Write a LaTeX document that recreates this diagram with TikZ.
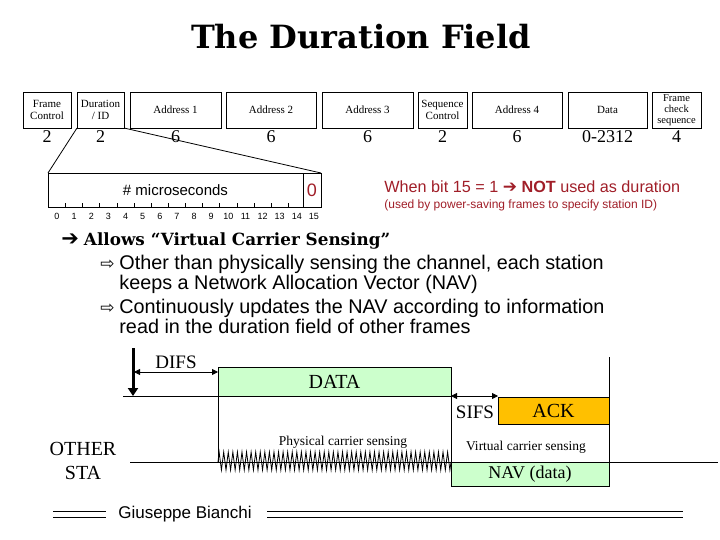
\documentclass[tikz,border=0pt]{standalone}
\definecolor{navred}{RGB}{160, 30, 40}
\definecolor{datagreen}{RGB}{204, 255, 204}
\definecolor{ackorange}{RGB}{255, 192, 0}
\usepackage{fontspec}
\setmainfont{Liberation Serif}
\setsansfont{Liberation Sans}
\newfontfamily\headfont{DejaVu Serif}
\newfontfamily\symfont{DejaVu Sans}
\usepackage{tikz}
\usetikzlibrary{arrows.meta, positioning}

\tikzset{
    field/.style={draw, line width=0.8pt, inner sep=0pt, outer sep=0pt,
                  minimum height=36pt, align=center,
                  font=\fontsize{11}{12.5}\selectfont},
    fieldsize/.style={inner sep=0pt, font=\fontsize{18}{18}\selectfont},
    bitbox/.style={draw, line width=0.8pt, inner sep=0pt, outer sep=0pt,
                   minimum height=34pt},
    bitnum/.style={inner sep=0pt, font=\sffamily\fontsize{9}{9}\selectfont},
    slot/.style={draw, line width=0.8pt, inner sep=0pt, outer sep=0pt,
                 font=\fontsize{20}{20}\selectfont},
    timelabel/.style={inner sep=0pt, font=\fontsize{19}{19}\selectfont},
    sensing/.style={inner sep=0pt, font=\fontsize{13.5}{13.5}\selectfont},
    gap/.style={line width=0.8pt, {Triangle[length=6pt,width=6pt]}-{Triangle[length=6pt,width=6pt]}}
}

\begin{document}
\begin{tikzpicture}[x=1pt, y=-1pt, line width=0.8pt]
    \useasboundingbox (0,0) rectangle (720,540);

    % Title
    \node[font=\headfont\bfseries\fontsize{32}{32}\selectfont] (title) at (361,37) {The Duration Field};

    % MAC frame fields
    \node[field, minimum width=48pt] (fc) at (47,110) {Frame\\Control};
    \node[field, minimum width=47pt, right=6pt of fc] (dur) {Duration\\/ ID};
    \node[field, minimum width=91pt, right=6pt of dur] (addr1) {Address 1};
    \node[field, minimum width=90pt, right=5pt of addr1] (addr2) {Address 2};
    \node[field, minimum width=91pt, right=6pt of addr2] (addr3) {Address 3};
    \node[field, minimum width=49pt, right=5pt of addr3] (seqc) {Sequence\\Control};
    \node[field, minimum width=90pt, right=5pt of seqc] (addr4) {Address 4};
    \node[field, minimum width=79pt, right=6pt of addr4] (data) {Data};
    \node[field, minimum width=49pt, right=5pt of data,
          font=\fontsize{10.5}{11}\selectfont] (fcs) {Frame\\check\\sequence};

    % field lengths
    \foreach \f/\n in {fc/2, dur/2, addr1/6, addr2/6, addr3/6, seqc/2, addr4/6, data/0-2312, fcs/4}
        \node[fieldsize] at ([yshift=-9pt]\f.south) {\n};

    % Duration/ID bits
    \node[bitbox, minimum width=255pt, font=\sffamily\fontsize{15}{15}\selectfont] (usec) at (175.5,190) {\# microseconds};
    \node[bitbox, minimum width=18pt, right=0pt of usec, text=navred,
          font=\sffamily\fontsize{18}{18}\selectfont] (flag) {0};
    \draw (dur.south west) -- (usec.north west);
    \draw (dur.south east) -- (flag.north east);
    \foreach \t in {0,...,13}
        \draw ({65.6+17.13*\t},207) -- ++(0,-4);
    \foreach \b in {0,...,15}
        \node[bitnum] at ({57+17.13*\b},216) {\b};

    % bit 15 note
    \node[anchor=west, inner sep=0pt, text=navred, font=\sffamily\fontsize{16.2}{16}\selectfont] (note) at (384,187)
        {When bit 15 = 1 {\symfont\fontsize{17}{17}\selectfont ➔} \textbf{NOT} used as duration};
    \node[anchor=west, inner sep=0pt, text=navred, font=\sffamily\fontsize{12}{12}\selectfont] (notesub) at (384,205)
        {(used by power-saving frames to specify station ID)};

    % bullets
    \node[anchor=west, inner sep=0pt] (allows) at (61,241)
        {{\symfont\fontsize{21}{21}\selectfont ➔}\hspace{5pt}{\headfont\bfseries\fontsize{16.8}{16.8}\selectfont Allows “Virtual Carrier Sensing”}};
    \node[anchor=west, inner sep=0pt, font=\symfont\fontsize{17}{17}\selectfont] (arr1) at (100,265) {⇨};
    \node[anchor=north west, inner sep=0pt, align=left, font=\sffamily\fontsize{19.8}{20}\selectfont] (item1) at (119,255)
        {Other than physically sensing the channel, each station\\keeps a Network Allocation Vector (NAV)};
    \node[anchor=west, inner sep=0pt, font=\symfont\fontsize{17}{17}\selectfont] (arr2) at (100,309) {⇨};
    \node[anchor=north west, inner sep=0pt, align=left, font=\sffamily\fontsize{19.8}{20}\selectfont] (item2) at (119,299)
        {Continuously updates the NAV according to information\\read in the duration field of other frames};

    % transmitter timeline
    \coordinate (txstart) at (123,396);
    \node[slot, fill=datagreen, minimum width=233pt, minimum height=29pt, anchor=south west] (datapkt) at (218,396) {DATA};
    \node[slot, fill=ackorange, minimum width=111pt, minimum height=27pt, anchor=north west] (ack) at (498,397) {ACK};
    \draw (txstart) -- (datapkt.south east);
    \draw[line width=3pt, -{Triangle[length=8pt,width=10pt]}] (133,348) -- (133,396);
    \coordinate (difs) at (134,372);
    \draw[gap] (difs) -- (difs -| datapkt.west);
    \node[timelabel] (difslabel) at (176,362) {DIFS};
    \draw[gap] (datapkt.south east) -- (datapkt.south east -| ack.west);
    \node[timelabel] (sifslabel) at (475,412) {SIFS};

    % other station timeline
    \node[timelabel, align=center, font=\fontsize{20}{24}\selectfont] (other) at (83,461) {OTHER\\STA};
    \coordinate (rxstart) at (130,462);
    \coordinate (rxend) at (718,462);
    \node[slot, fill=datagreen, minimum width=158pt, minimum height=24pt, anchor=north west,
          font=\fontsize{18}{18}\selectfont] (nav) at (451,462) {NAV (data)};
    \draw (rxstart) -- (rxend);
    \draw (datapkt.south west) -- (datapkt.south west |- rxstart);
    \draw (datapkt.south east) -- (nav.north west);
    \draw (609,357) -- (nav.north east);
    \draw (218,462) \foreach \k in {0,...,50} { -- ({218+4.569*\k+1.14},452) -- ({218+4.569*\k+3.43},470) } -- (451,462);
    \node[sensing] (phys) at (343,442) {Physical carrier sensing};
    \node[sensing] (virt) at (526,447) {Virtual carrier sensing};

    % footer
    \node[inner sep=0pt, font=\sffamily\fontsize{17}{17}\selectfont] (author) at (185,514) {Giuseppe Bianchi};
    \foreach \dy in {-3,3} {
        \draw ([yshift=\dy pt]53,514) -- ([xshift=-12pt, yshift=\dy pt]author.west);
        \draw ([xshift=15pt, yshift=\dy pt]author.east) -- ([yshift=\dy pt]683,514);
    }
\end{tikzpicture}
\end{document}
